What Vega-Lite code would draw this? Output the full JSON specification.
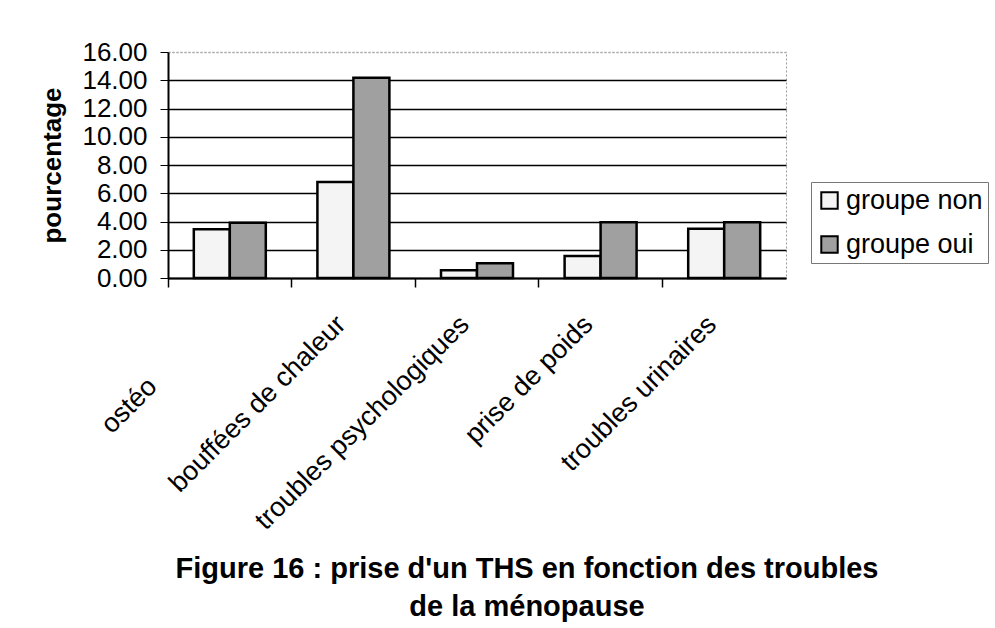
{
  "$schema": "https://vega.github.io/schema/vega-lite/v6.json",
  "width": 618,
  "height": 226,
  "autosize": {"type": "none"},
  "padding": {"left": 168, "top": 52, "right": 209, "bottom": 350},
  "background": "white",
  "title": {
    "text": ["Figure 16 : prise d'un THS en fonction des troubles", "de la ménopause"],
    "orient": "bottom",
    "anchor": "middle",
    "frame": "group",
    "dx": 50,
    "offset": 21,
    "font": "Liberation Sans",
    "fontSize": 29,
    "fontWeight": "bold",
    "lineHeight": 38,
    "color": "black",
    "baseline": "top"
  },
  "data": {
    "values": [
      {"trouble": "ostéoporose", "groupe": "groupe non", "pourcentage": 3.45},
      {"trouble": "ostéoporose", "groupe": "groupe oui", "pourcentage": 3.92},
      {"trouble": "bouffées de chaleur", "groupe": "groupe non", "pourcentage": 6.8},
      {"trouble": "bouffées de chaleur", "groupe": "groupe oui", "pourcentage": 14.18},
      {"trouble": "troubles psychologiques", "groupe": "groupe non", "pourcentage": 0.55},
      {"trouble": "troubles psychologiques", "groupe": "groupe oui", "pourcentage": 1.05},
      {"trouble": "prise de poids", "groupe": "groupe non", "pourcentage": 1.56},
      {"trouble": "prise de poids", "groupe": "groupe oui", "pourcentage": 3.95},
      {"trouble": "troubles urinaires", "groupe": "groupe non", "pourcentage": 3.49},
      {"trouble": "troubles urinaires", "groupe": "groupe oui", "pourcentage": 3.95}
    ]
  },
  "mark": {"type": "bar", "stroke": "black", "strokeWidth": 2.5},
  "encoding": {
    "x": {
      "field": "trouble",
      "type": "nominal",
      "sort": null,
      "scale": {"paddingInner": 0, "paddingOuter": 0},
      "axis": {
        "title": null,
        "bandPosition": 0,
        "labelOffset": {"condition": {"test": "datum.value == 'ostéoporose'", "value": -77}, "value": -12},
        "labelPadding": {"condition": {"test": "datum.value == 'ostéoporose'", "value": 95}, "value": 33},
        "labelAngle": -45,
        "labelAlign": "right",
        "labelBaseline": "middle",
        "labelFont": "Liberation Sans",
        "labelFontSize": 27,
        "labelColor": "black",
        "labelOverlap": false,
        "labelLimit": 500,
        "labelBound": false,
        "labelExpr": "datum.value == 'ostéoporose' ? 'ostéo' : datum.value",
        "domainColor": "black",
        "domainWidth": 2,
        "tickColor": "black",
        "tickSize": 9,
        "tickWidth": 1.5,
        "grid": false
      }
    },
    "xOffset": {
      "field": "groupe",
      "type": "nominal",
      "scale": {"paddingOuter": 0.717, "paddingInner": 0}
    },
    "y": {
      "field": "pourcentage",
      "type": "quantitative",
      "scale": {"domain": [0, 16]},
      "axis": {
        "title": "pourcentage",
        "values": [0, 2, 4, 6, 8, 10, 12, 14, 16],
        "format": ".2f",
        "labelFont": "Liberation Sans",
        "labelFontSize": 26,
        "labelColor": "black",
        "labelPadding": 13,
        "tickSize": 8,
        "tickColor": "black",
        "domainColor": "black",
        "domainWidth": 2,
        "grid": true,
        "gridColor": {"condition": {"test": "datum.value == 16", "value": "#aaaaaa"}, "value": "black"},
        "gridWidth": 1.3,
        "gridDash": {"condition": {"test": "datum.value == 16", "value": [2, 2]}, "value": []},
        "titleFont": "Liberation Sans",
        "titleFontSize": 26,
        "titleFontWeight": "bold",
        "titleColor": "black",
        "titlePadding": 16
      }
    },
    "fill": {
      "field": "groupe",
      "type": "nominal",
      "scale": {"domain": ["groupe non", "groupe oui"], "range": ["#f4f4f4", "#a0a0a0"]},
      "legend": {
        "title": null,
        "orient": "none",
        "legendX": 643,
        "legendY": 130,
        "strokeColor": "#777777",
        "fillColor": "white",
        "padding": 5,
        "labelFont": "Liberation Sans",
        "labelFontSize": 27,
        "labelColor": "black",
        "symbolType": "square",
        "symbolSize": 270,
        "symbolStrokeColor": "black",
        "symbolStrokeWidth": 2,
        "rowPadding": 16,
        "labelOffset": 3
      }
    }
  },
  "config": {"view": {"stroke": "#999999", "strokeDash": [2, 2], "strokeWidth": 1}}
}
